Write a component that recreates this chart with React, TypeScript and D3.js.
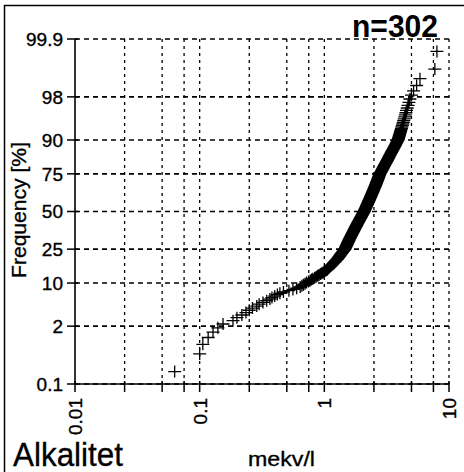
import React from "react";
import * as d3 from "d3";

const W = 464;
const H = 472;

// Alkalinity values (mekv/l), sorted, n = 302
const alkValues: number[] = [
  0.063, 0.100, 0.106, 0.117, 0.128, 0.140, 0.154, 0.185, 0.199, 0.218,
  0.235, 0.250, 0.265, 0.287, 0.300, 0.322, 0.345, 0.366, 0.380, 0.400,
  0.420, 0.440, 0.470, 0.520, 0.560, 0.600, 0.640, 0.660, 0.680, 0.700,
  0.720, 0.747, 0.770, 0.790, 0.810, 0.836, 0.860, 0.883, 0.906, 0.930,
  0.953, 0.977, 1.000, 1.025, 1.050, 1.064, 1.080, 1.094, 1.110, 1.124,
  1.140, 1.154, 1.170, 1.184, 1.200, 1.213, 1.228, 1.243, 1.258, 1.273,
  1.285, 1.297, 1.307, 1.318, 1.330, 1.342, 1.352, 1.365, 1.376, 1.390,
  1.400, 1.413, 1.425, 1.438, 1.450, 1.462, 1.469, 1.476, 1.483, 1.490,
  1.497, 1.504, 1.511, 1.518, 1.525, 1.532, 1.539, 1.547, 1.554, 1.562,
  1.569, 1.576, 1.584, 1.591, 1.599, 1.606, 1.614, 1.621, 1.629, 1.636,
  1.644, 1.652, 1.660, 1.668, 1.676, 1.684, 1.692, 1.700, 1.708, 1.716,
  1.724, 1.732, 1.740, 1.749, 1.757, 1.765, 1.773, 1.781, 1.790, 1.798,
  1.806, 1.815, 1.823, 1.832, 1.840, 1.849, 1.858, 1.867, 1.875, 1.884,
  1.893, 1.902, 1.911, 1.920, 1.929, 1.938, 1.947, 1.956, 1.966, 1.975,
  1.984, 1.993, 2.003, 2.012, 2.022, 2.031, 2.041, 2.050, 2.060, 2.070,
  2.080, 2.088, 2.096, 2.104, 2.113, 2.121, 2.129, 2.137, 2.146, 2.154,
  2.162, 2.170, 2.179, 2.187, 2.196, 2.204, 2.213, 2.221, 2.230, 2.238,
  2.247, 2.256, 2.265, 2.273, 2.282, 2.291, 2.300, 2.309, 2.318, 2.327,
  2.336, 2.345, 2.354, 2.363, 2.372, 2.381, 2.390, 2.400, 2.409, 2.419,
  2.428, 2.437, 2.447, 2.456, 2.466, 2.475, 2.485, 2.494, 2.504, 2.513,
  2.523, 2.533, 2.543, 2.553, 2.563, 2.573, 2.583, 2.593, 2.603, 2.613,
  2.623, 2.633, 2.643, 2.654, 2.664, 2.674, 2.684, 2.695, 2.705, 2.716,
  2.726, 2.737, 2.747, 2.758, 2.769, 2.779, 2.790, 2.808, 2.826, 2.844,
  2.861, 2.879, 2.896, 2.914, 2.931, 2.949, 2.967, 2.984, 3.002, 3.020,
  3.041, 3.062, 3.084, 3.105, 3.126, 3.148, 3.170, 3.192, 3.214, 3.236,
  3.259, 3.282, 3.304, 3.327, 3.350, 3.377, 3.403, 3.430, 3.456, 3.483,
  3.514, 3.546, 3.577, 3.609, 3.640, 3.674, 3.708, 3.742, 3.776, 3.810,
  3.850, 3.890, 3.913, 3.937, 3.960, 3.986, 4.012, 4.038, 4.064, 4.090,
  4.124, 4.158, 4.192, 4.226, 4.260, 4.297, 4.333, 4.370, 4.420, 4.470,
  4.515, 4.560, 4.625, 4.690, 4.775, 4.860, 5.000, 5.200, 5.500, 5.850,
  7.700, 8.000,
];

const yTicks: number[] = [0.1, 2, 10, 25, 50, 75, 90, 98, 99.9];
const yTickLabels: string[] = ["0.1", "2", "10", "25", "50", "75", "90", "98", "99.9"];
const xTicks: number[] = [0.01, 0.1, 1, 10];
const xTickLabels: string[] = ["0.01", "0.1", "1", "10"];
const xGrid: number[] = [0.025, 0.05, 0.075, 0.1, 0.25, 0.5, 0.75, 1, 2.5, 5, 7.5, 10];

const title = "Alkalitet";
const unit = "mekv/l";
const yTitle = "Frequency [%]";
const nLabel = "n=302";

// inverse standard normal CDF (Acklam)
function probit(p: number): number {
  const a = [-3.969683028665376e1, 2.209460984245205e2, -2.759285104469687e2, 1.38357751867269e2, -3.066479806614716e1, 2.506628277459239];
  const b = [-5.447609879822406e1, 1.615858368580409e2, -1.556989798598866e2, 6.680131188771972e1, -1.328068155288572e1];
  const c = [-7.784894002430293e-3, -3.223964580411365e-1, -2.400758277161838, -2.549732539343734, 4.374664141464968, 2.938163982698783];
  const d = [7.784695709041462e-3, 3.224671290700398e-1, 2.445134137142996, 3.754408661907416];
  const pl = 0.02425;
  if (p < pl) {
    const q = Math.sqrt(-2 * Math.log(p));
    return (((((c[0] * q + c[1]) * q + c[2]) * q + c[3]) * q + c[4]) * q + c[5]) / ((((d[0] * q + d[1]) * q + d[2]) * q + d[3]) * q + 1);
  }
  if (p > 1 - pl) {
    const q = Math.sqrt(-2 * Math.log(1 - p));
    return -(((((c[0] * q + c[1]) * q + c[2]) * q + c[3]) * q + c[4]) * q + c[5]) / ((((d[0] * q + d[1]) * q + d[2]) * q + d[3]) * q + 1);
  }
  const q = p - 0.5;
  const r = q * q;
  return ((((((a[0] * r + a[1]) * r + a[2]) * r + a[3]) * r + a[4]) * r + a[5]) * q) / (((((b[0] * r + b[1]) * r + b[2]) * r + b[3]) * r + b[4]) * r + 1);
}

const x0 = 75, x1 = 449, yTop = 39, yBot = 384;

const xScale = d3.scaleLog().domain([0.01, 10]).range([x0, x1]);
const zScale = d3.scaleLinear().domain([probit(0.001), probit(0.999)]).range([yBot, yTop]);
const yPct = (pct: number) => zScale(probit(pct / 100));

const font = "'Liberation Sans', Arial, sans-serif";

export default function App() {
  const n = alkValues.length;
  const pts = alkValues.map((v, i) => ({
    x: xScale(v),
    y: zScale(probit((i + 1 - 0.375) / (n + 0.25))),
  }));
  const hs = 6.5;
  const vs = 6;
  const crossPath = pts
    .map((p) => `M${p.x - hs},${p.y}H${p.x + hs}M${p.x},${p.y - vs}V${p.y + vs}`)
    .join("");

  const textStroke = { stroke: "#000", strokeWidth: 0.35 };

  return (
    <svg
      width={W}
      height={H}
      style={{ position: "absolute", left: 0, top: 0, display: "block", background: "#fff" }}
      fontFamily={font}
    >
      <rect x={0} y={0} width={W} height={H} fill="#fff" />
      {/* frame */}
      <line x1={4.5} y1={5} x2={4.5} y2={H} stroke="#000" strokeWidth={1.5} />
      <line x1={4} y1={5.5} x2={W} y2={5.5} stroke="#000" strokeWidth={1.5} />

      {/* vertical grid */}
      {xGrid.map((g, i) => (
        <line
          key={"vg" + i}
          x1={xScale(g)}
          x2={xScale(g)}
          y1={yTop}
          y2={yBot}
          stroke="#000"
          strokeWidth={1.3}
          strokeDasharray="3,4"
        />
      ))}
      {/* horizontal grid */}
      {yTicks.map((t, i) => (
        <line
          key={"hg" + i}
          x1={x0}
          x2={x1}
          y1={yPct(t)}
          y2={yPct(t)}
          stroke="#000"
          strokeWidth={1.6}
          strokeDasharray="5,4"
        />
      ))}

      {/* axes */}
      <line x1={x0} x2={x0} y1={yTop} y2={yBot} stroke="#000" strokeWidth={1.6} />
      <line x1={x0} x2={x1} y1={yBot} y2={yBot} stroke="#000" strokeWidth={1.6} />

      {/* y ticks */}
      {yTicks.map((t, i) => (
        <g key={"yt" + i}>
          <line x1={67} x2={78} y1={yPct(t)} y2={yPct(t)} stroke="#000" strokeWidth={1.5} />
          <text x={63} y={yPct(t)} dy="0.36em" textAnchor="end" fontSize={19} fill="#000" {...textStroke}>
            {yTickLabels[i]}
          </text>
        </g>
      ))}

      {/* x ticks */}
      {xGrid.map((g, i) => (
        <line
          key={"xt" + i}
          x1={xScale(g)}
          x2={xScale(g)}
          y1={yBot - 3}
          y2={yBot + 8}
          stroke="#000"
          strokeWidth={1.5}
        />
      ))}
      <line x1={x0} x2={x0} y1={yBot - 3} y2={yBot + 8} stroke="#000" strokeWidth={1.5} />
      {xTicks.map((t, i) => (
        <text
          key={"xl" + i}
          transform={`translate(${xScale(t)},${398}) rotate(-90)`}
          dy="0.36em"
          textAnchor="end"
          fontSize={19}
          fill="#000"
          {...textStroke}
        >
          {xTickLabels[i]}
        </text>
      ))}

      {/* data */}
      <path d={crossPath} fill="none" stroke="#000" strokeWidth={1.3} />

      {/* labels */}
      <text
        transform={`translate(26,210) rotate(-90)`}
        textAnchor="middle"
        fontSize={21}
        fill="#000"
        textLength={136}
        lengthAdjust="spacingAndGlyphs"
        {...textStroke}
      >
        {yTitle}
      </text>
      <text x={438} y={37} textAnchor="end" fontSize={32} fontWeight="bold" fill="#000" textLength={86} lengthAdjust="spacingAndGlyphs">
        {nLabel}
      </text>
      <text x={13} y={466} fontSize={34} fill="#000" textLength={110} lengthAdjust="spacingAndGlyphs" {...textStroke}>
        {title}
      </text>
      <text x={248} y={466} fontSize={21} fill="#000" textLength={67} lengthAdjust="spacingAndGlyphs" {...textStroke}>
        {unit}
      </text>
    </svg>
  );
}
